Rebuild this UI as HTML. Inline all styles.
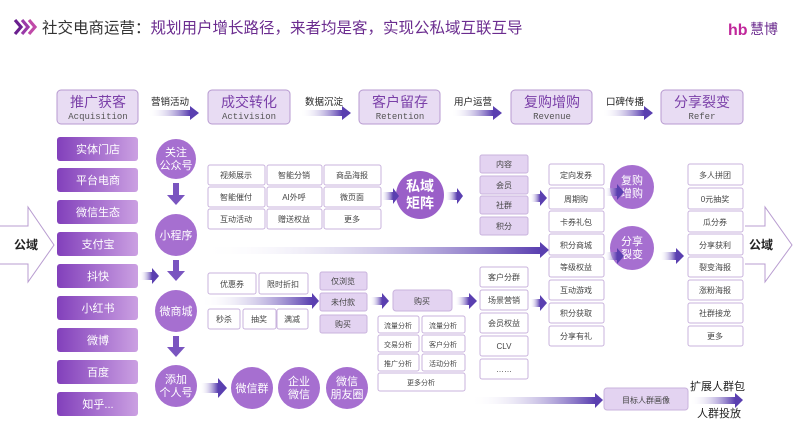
<!DOCTYPE html>
<html><head><meta charset="utf-8"><style>
html,body{margin:0;padding:0;background:#fff;width:800px;height:448px;overflow:hidden}
svg text{font-family:"Liberation Sans","Noto Sans CJK SC",sans-serif}
svg text.mono{font-family:"Liberation Mono","Noto Sans CJK SC",monospace}
</style></head><body>
<svg width="800" height="448" viewBox="0 0 800 448" xmlns="http://www.w3.org/2000/svg">
<defs>
<linearGradient id="lb" x1="0" x2="1"><stop offset="0" stop-color="#8240bb"/><stop offset="1" stop-color="#cba0e2"/></linearGradient>
<linearGradient id="ar" x1="0" x2="1"><stop offset="0" stop-color="#fff" stop-opacity="0"/><stop offset="1" stop-color="#5a3fb0"/></linearGradient>
</defs>
<!-- title -->
<g fill="none" stroke-width="3.2"><path d="M15,20L21,27L15,34" stroke="#6a1f8f"/><path d="M22,20L28,27L22,34" stroke="#9a3aa8"/><path d="M29,20L35,27L29,34" stroke="#c04aa8"/></g>
<text x="42" y="33" font-size="15.5" fill="#333">社交电商运营：<tspan fill="#6b2c8f">规划用户增长路径，来者均是客，实现公私域互联互导</tspan></text>
<text x="728" y="35" font-size="16" font-weight="bold" fill="#c0269a">hb</text>
<text x="750" y="34" font-size="14" fill="#6b2c8f">慧博</text>

<!-- stage boxes -->
<g font-size="14" fill="#7a3fa8" text-anchor="middle">
<g stroke="#b79ad0" fill="#e8dcf3"><rect x="57" y="90" width="81" height="34" rx="4"/><rect x="208" y="90" width="82" height="34" rx="4"/><rect x="359" y="90" width="81" height="34" rx="4"/><rect x="511" y="90" width="81" height="34" rx="4"/><rect x="661" y="90" width="82" height="34" rx="4"/></g>
<text x="98" y="107">推广获客</text><text x="249" y="107">成交转化</text><text x="400" y="107">客户留存</text><text x="552" y="107">复购增购</text><text x="702" y="107">分享裂变</text>
<g font-size="9" fill="#555"><text class="mono" x="98" y="119">Acquisition</text><text class="mono" x="249" y="119">Activision</text><text class="mono" x="400" y="119">Retention</text><text class="mono" x="552" y="119">Revenue</text><text class="mono" x="702" y="119">Refer</text></g>
</g>
<g font-size="9.5" fill="#222"><text x="151" y="105">营销活动</text><text x="305" y="105">数据沉淀</text><text x="454" y="105">用户运营</text><text x="606" y="105">口碑传播</text></g>
<g fill="url(#ar)"><rect x="148" y="110" width="42" height="6"/><rect x="300" y="110" width="42" height="6"/><rect x="451" y="110" width="42" height="6"/><rect x="602" y="110" width="42" height="6"/></g>
<g fill="#5a3fb0"><path d="M190,106L199,113L190,120Z"/><path d="M342,106L351,113L342,120Z"/><path d="M493,106L502,113L493,120Z"/><path d="M644,106L653,113L644,120Z"/></g>

<!-- left column -->
<g fill="url(#lb)"><rect x="57" y="137" width="81" height="24" rx="3"/><rect x="57" y="168" width="81" height="24" rx="3"/><rect x="57" y="200" width="81" height="24" rx="3"/><rect x="57" y="232" width="81" height="24" rx="3"/><rect x="57" y="264" width="81" height="24" rx="3"/><rect x="57" y="296" width="81" height="24" rx="3"/><rect x="57" y="328" width="81" height="24" rx="3"/><rect x="57" y="360" width="81" height="24" rx="3"/><rect x="57" y="392" width="81" height="24" rx="3"/></g>
<g font-size="11" fill="#fff" text-anchor="middle"><text x="98" y="153">实体门店</text><text x="98" y="184">平台电商</text><text x="98" y="216">微信生态</text><text x="98" y="248">支付宝</text><text x="98" y="280">抖快</text><text x="98" y="312">小红书</text><text x="98" y="344">微博</text><text x="98" y="376">百度</text><text x="98" y="408">知乎...</text></g>
<!-- big outline arrows -->
<path d="M0,226H28V207L54,245L28,282V264H0" fill="none" stroke="#b89cd0"/>
<text x="14" y="249" font-size="12" font-weight="bold" fill="#222">公域</text>
<path d="M745,226H765V207L792,245L765,282V264H745" fill="none" stroke="#b89cd0"/>
<text x="749" y="249" font-size="12" font-weight="bold" fill="#222">公域</text>

<!-- circles -->
<g fill="#a66fd0"><circle cx="176" cy="159" r="20"/><circle cx="176" cy="235" r="21"/><circle cx="176" cy="311" r="21"/><circle cx="176" cy="386" r="21"/><circle cx="252" cy="388" r="21"/><circle cx="299" cy="388" r="21"/><circle cx="347" cy="388" r="21"/><circle cx="420" cy="195" r="24" fill="#9a5fc8"/><circle cx="632" cy="187" r="22"/><circle cx="632" cy="248" r="22"/></g>
<g font-size="11" fill="#fff" text-anchor="middle"><text x="176" y="156">关注</text><text x="176" y="169">公众号</text><text x="176" y="239">小程序</text><text x="176" y="315">微商城</text><text x="176" y="383">添加</text><text x="176" y="396">个人号</text><text x="252" y="392">微信群</text><text x="299" y="385">企业</text><text x="299" y="398">微信</text><text x="347" y="385">微信</text><text x="347" y="398">朋友圈</text><text x="632" y="184">复购</text><text x="632" y="197">增购</text><text x="632" y="245">分享</text><text x="632" y="258">裂变</text>
<text x="420" y="191" font-size="14" font-weight="bold">私域</text><text x="420" y="208" font-size="14" font-weight="bold">矩阵</text></g>
<!-- down arrows -->
<g fill="#7a55c0"><rect x="173" y="183" width="6" height="12"/><path d="M167,195H185L176,205Z"/><rect x="173" y="260" width="6" height="12"/><path d="M167,271H185L176,281Z"/><rect x="173" y="336" width="6" height="12"/><path d="M167,347H185L176,357Z"/></g>

<!-- small arrows -->
<g fill="url(#ar)"><rect x="200" y="383" width="18" height="10"/><rect x="381" y="192" width="12" height="8"/><rect x="445" y="192" width="12" height="8"/><rect x="530" y="194" width="10" height="8"/><rect x="605" y="188" width="12" height="8"/><rect x="605" y="252" width="12" height="8"/><rect x="660" y="252" width="16" height="8"/><rect x="140" y="272" width="12" height="8"/><rect x="370" y="297" width="12" height="8"/><rect x="455" y="297" width="14" height="8"/><rect x="530" y="299" width="10" height="8"/>
<rect x="200" y="247" width="340" height="7"/><rect x="200" y="297" width="112" height="8"/><rect x="470" y="397" width="125" height="7"/><rect x="690" y="397" width="45" height="7"/></g>
<g fill="#5a3fb0"><path d="M218,378L227,388L218,398Z"/><path d="M393,188L399,196L393,204Z"/><path d="M457,188L463,196L457,204Z"/><path d="M540,190L547,198L540,206Z"/><path d="M617,184L624,192L617,200Z"/><path d="M617,248L624,256L617,264Z"/><path d="M676,248L684,256L676,264Z"/><path d="M152,268L159,276L152,284Z"/><path d="M382,293L389,301L382,309Z"/><path d="M469,293L477,301L469,309Z"/><path d="M540,295L547,303L540,311Z"/><path d="M540,242L549,250L540,258Z"/><path d="M312,293L319,301L312,309Z"/><path d="M595,393L603,400L595,408Z"/><path d="M735,393L743,400L735,408Z"/></g>

<!-- white boxes -->
<g fill="#fff" stroke="#c9b3dd"><rect x="208" y="165" width="57" height="20" rx="2"/><rect x="267" y="165" width="55" height="20" rx="2"/><rect x="324" y="165" width="57" height="20" rx="2"/><rect x="208" y="187" width="57" height="20" rx="2"/><rect x="267" y="187" width="55" height="20" rx="2"/><rect x="324" y="187" width="57" height="20" rx="2"/><rect x="208" y="209" width="57" height="20" rx="2"/><rect x="267" y="209" width="55" height="20" rx="2"/><rect x="324" y="209" width="57" height="20" rx="2"/>
<rect x="208" y="273" width="48" height="21" rx="2"/><rect x="259" y="273" width="49" height="21" rx="2"/><rect x="208" y="309" width="32" height="20" rx="2"/><rect x="243" y="309" width="33" height="20" rx="2"/><rect x="277" y="309" width="31" height="20" rx="2"/>
<rect x="378" y="316" width="41" height="17" rx="2"/><rect x="422" y="316" width="43" height="17" rx="2"/><rect x="378" y="335" width="41" height="17" rx="2"/><rect x="422" y="335" width="43" height="17" rx="2"/><rect x="378" y="354" width="41" height="17" rx="2"/><rect x="422" y="354" width="43" height="17" rx="2"/><rect x="378" y="373" width="87" height="18" rx="2"/>
<rect x="480" y="267" width="48" height="20" rx="2"/><rect x="480" y="290" width="48" height="20" rx="2"/><rect x="480" y="313" width="48" height="20" rx="2"/><rect x="480" y="336" width="48" height="20" rx="2"/><rect x="480" y="359" width="48" height="20" rx="2"/>
<rect x="549" y="164" width="55" height="21" rx="2"/><rect x="549" y="188" width="55" height="21" rx="2"/><rect x="549" y="211" width="55" height="21" rx="2"/><rect x="549" y="234" width="55" height="21" rx="2"/><rect x="549" y="257" width="55" height="20" rx="2"/><rect x="549" y="280" width="55" height="20" rx="2"/><rect x="549" y="303" width="55" height="20" rx="2"/><rect x="549" y="326" width="55" height="20" rx="2"/>
<rect x="688" y="164" width="55" height="21" rx="2"/><rect x="688" y="188" width="55" height="21" rx="2"/><rect x="688" y="211" width="55" height="21" rx="2"/><rect x="688" y="234" width="55" height="21" rx="2"/><rect x="688" y="257" width="55" height="20" rx="2"/><rect x="688" y="280" width="55" height="20" rx="2"/><rect x="688" y="303" width="55" height="20" rx="2"/><rect x="688" y="326" width="55" height="20" rx="2"/></g>
<!-- lavender boxes -->
<g fill="#e3d3f1" stroke="#c9b3dd"><rect x="480" y="155" width="48" height="18" rx="2"/><rect x="480" y="176" width="48" height="18" rx="2"/><rect x="480" y="196" width="48" height="18" rx="2"/><rect x="480" y="217" width="48" height="18" rx="2"/><rect x="320" y="272" width="47" height="18" rx="2"/><rect x="320" y="293" width="47" height="18" rx="2"/><rect x="320" y="315" width="47" height="18" rx="2"/><rect x="393" y="290" width="59" height="21" rx="3"/><rect x="604" y="388" width="84" height="22" rx="3"/></g>

<g font-size="8" fill="#444" text-anchor="middle">
<text x="236" y="178">视频展示</text><text x="294" y="178">智能分销</text><text x="352" y="178">商品海报</text><text x="236" y="200">智能催付</text><text x="294" y="200">AI外呼</text><text x="352" y="200">微页面</text><text x="236" y="222">互动活动</text><text x="294" y="222">赠送权益</text><text x="352" y="222">更多</text>
<text x="232" y="287">优惠券</text><text x="283" y="287">限时折扣</text><text x="224" y="322">秒杀</text><text x="259" y="322">抽奖</text><text x="292" y="322">满减</text>
<text x="343" y="284">仅浏览</text><text x="343" y="305">未付款</text><text x="343" y="327">购买</text><text x="422" y="304">购买</text>
<text x="398" y="328" font-size="7">流量分析</text><text x="443" y="328" font-size="7">流量分析</text><text x="398" y="347" font-size="7">交易分析</text><text x="443" y="347" font-size="7">客户分析</text><text x="398" y="366" font-size="7">推广分析</text><text x="443" y="366" font-size="7">活动分析</text><text x="421" y="385" font-size="7">更多分析</text>
<text x="504" y="167">内容</text><text x="504" y="188">会员</text><text x="504" y="208">社群</text><text x="504" y="229">积分</text>
<text x="504" y="280">客户分群</text><text x="504" y="303">场景营销</text><text x="504" y="326">会员权益</text><text x="504" y="349">CLV</text><text x="504" y="372">……</text>
<text x="576" y="178">定向发券</text><text x="576" y="202">周期购</text><text x="576" y="225">卡券礼包</text><text x="576" y="248">积分商城</text><text x="576" y="270">等级权益</text><text x="576" y="293">互动游戏</text><text x="576" y="316">积分获取</text><text x="576" y="339">分享有礼</text>
<text x="715" y="178">多人拼团</text><text x="715" y="202">0元抽奖</text><text x="715" y="225">瓜分券</text><text x="715" y="248">分享获利</text><text x="715" y="270">裂变海报</text><text x="715" y="293">涨粉海报</text><text x="715" y="316">社群接龙</text><text x="715" y="339">更多</text>
<text x="646" y="403">目标人群画像</text></g>
<g font-size="11" fill="#222"><text x="690" y="390">扩展人群包</text><text x="697" y="417">人群投放</text></g>
</svg>
</body></html>
